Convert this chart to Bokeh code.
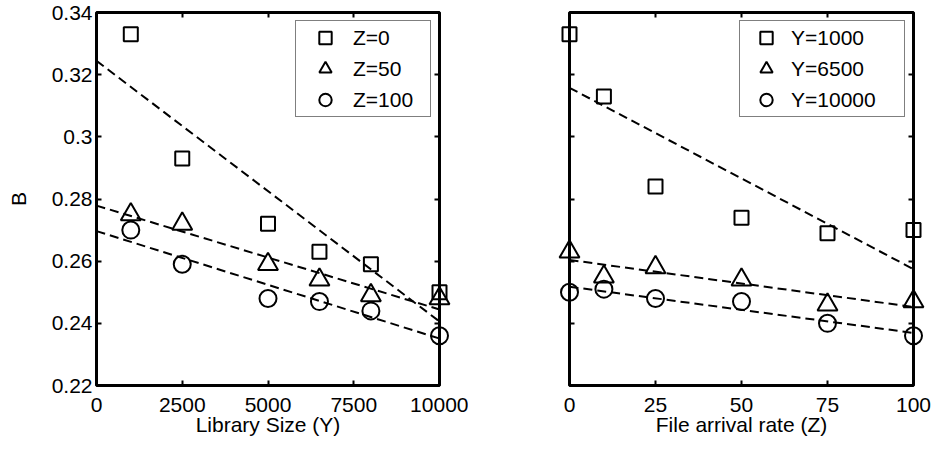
import numpy as np
from bokeh.plotting import figure
from bokeh.layouts import row
from bokeh.models import LinearAxis, FixedTicker, Legend, LegendItem, Range1d
from bokeh.embed import file_html
from bokeh.resources import INLINE

# ---------------- data ----------------
# Left panel: B versus library size (Y), one series per file arrival rate Z
lib_size = [1000, 2500, 5000, 6500, 8000, 10000]
b_z0 = [0.333, 0.293, 0.272, 0.263, 0.259, 0.250]
b_z50 = [0.275, 0.272, 0.259, 0.254, 0.249, 0.248]
b_z100 = [0.270, 0.259, 0.248, 0.247, 0.244, 0.236]
left_labels = ["Z=0", "Z=50", "Z=100"]

# Right panel: B versus file arrival rate (Z), one series per library size Y
arrival = [0, 10, 25, 50, 75, 100]
b_y1000 = [0.333, 0.313, 0.284, 0.274, 0.269, 0.270]
b_y6500 = [0.263, 0.255, 0.258, 0.254, 0.246, 0.247]
b_y10000 = [0.250, 0.251, 0.248, 0.247, 0.240, 0.236]
right_labels = ["Y=1000", "Y=6500", "Y=10000"]

y_ticks = [0.22, 0.24, 0.26, 0.28, 0.30, 0.32, 0.34]
y_tick_labels = ["0.22", "0.24", "0.26", "0.28", "0.3", "0.32", "0.34"]
left_x_ticks = [0, 2500, 5000, 7500, 10000]
right_x_ticks = [0, 25, 50, 75, 100]

markers = ["square", "triangle", "circle"]
marker_sizes = [14, 20, 17]

FONT = "Liberation Sans"
FS = "21px"


def style_axis(ax, show_labels, ticks, labels=None):
    ax.ticker = FixedTicker(ticks=ticks)
    ax.axis_line_color = None
    ax.major_tick_in = 5
    ax.major_tick_out = 0
    ax.major_tick_line_width = 2
    ax.major_tick_line_color = "black"
    ax.minor_tick_line_color = None
    ax.major_label_text_font = FONT
    ax.major_label_text_color = "black"
    ax.axis_label_text_font = FONT
    ax.axis_label_text_font_size = FS
    ax.axis_label_text_font_style = "normal"
    ax.axis_label_text_color = "black"
    if labels is not None:
        ax.major_label_overrides = {t: l for t, l in zip(ticks, labels)}
    if show_labels:
        ax.major_label_text_font_size = FS
    else:
        ax.major_label_text_font_size = "0px"
        ax.major_label_standoff = 0


def make_panel(xs, series, labels, x_ticks, xlabel, ylabel, show_ylabels,
               frame_w, mbl, mbr, glyph_w, label_w, fit_x):
    p = figure(frame_width=frame_w, frame_height=373,
               x_range=Range1d(x_ticks[0], x_ticks[-1]),
               y_range=Range1d(y_ticks[0], y_ticks[-1]),
               output_backend="svg", toolbar_location=None,
               min_border_left=mbl, min_border_right=mbr,
               min_border_top=12, min_border_bottom=60)
    p.xgrid.grid_line_color = None
    p.ygrid.grid_line_color = None
    p.outline_line_color = "black"
    p.outline_line_width = 3
    p.background_fill_color = "white"
    p.border_fill_color = "white"

    style_axis(p.xaxis[0], True, x_ticks)
    p.xaxis[0].major_label_standoff = 12
    p.xaxis[0].axis_label = xlabel
    p.xaxis[0].axis_label_standoff = -2
    style_axis(p.yaxis[0], show_ylabels, y_ticks, y_tick_labels)
    if show_ylabels:
        p.yaxis[0].major_label_standoff = 4
        p.yaxis[0].axis_label = ylabel
        p.yaxis[0].axis_label_standoff = 19

    top = LinearAxis()
    style_axis(top, False, x_ticks)
    p.add_layout(top, "above")
    right = LinearAxis()
    style_axis(right, False, y_ticks)
    p.add_layout(right, "right")

    items = []
    fx = np.array(fit_x, dtype=float)
    for ys, lab, mk, sz in zip(series, labels, markers, marker_sizes):
        slope, icpt = np.polyfit(np.array(xs, float), np.array(ys, float), 1)
        p.line(fx, icpt + slope * fx, line_color="black", line_width=2,
               line_dash="9 5")
        r = p.scatter(xs, ys, marker=mk, size=sz, fill_color=None,
                      line_color="black", line_width=2, level="overlay")
        items.append(LegendItem(label=lab, renderers=[r]))

    leg = Legend(items=items, location="top_right", margin=8,
                 padding=1, spacing=0, glyph_height=31, glyph_width=glyph_w,
                 label_standoff=0, label_width=label_w,
                 label_text_font=FONT, label_text_font_size=FS,
                 label_text_color="black",
                 border_line_color="black", border_line_width=1,
                 background_fill_color="white", background_fill_alpha=1)
    p.add_layout(leg)
    return p


p1 = make_panel(lib_size, [b_z0, b_z50, b_z100], left_labels, left_x_ticks,
                "Library Size (Y)", "B", True, 343, 96, 29, 56, 76,
                [left_x_ticks[0], lib_size[-1]])
p2 = make_panel(arrival, [b_y1000, b_y6500, b_y10000], right_labels,
                right_x_ticks, "File arrival rate (Z)", "", False,
                344, 101, 20, 50, 112, [arrival[0], arrival[-1]])

layout = row(p1, p2)
open("out.html", "w").write(file_html(layout, INLINE))
